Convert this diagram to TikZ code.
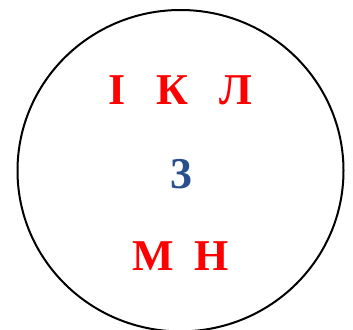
\documentclass[tikz,border=0pt]{standalone}
\usepackage{fontspec}
\setmainfont{Liberation Serif}
\definecolor{letterred}{RGB}{255,0,0}
\definecolor{digitblue}{RGB}{40,80,140}
\begin{document}
\begin{tikzpicture}[x=1pt,y=-1pt,
  letter/.style={anchor=base,inner sep=0pt,font=\fontsize{44}{50}\selectfont\bfseries,text=letterred},
  digit/.style={anchor=base,inner sep=0pt,font=\fontsize{44}{50}\selectfont\bfseries,text=digitblue}]
\useasboundingbox (0,0) rectangle (353,329);
\draw[line width=2pt] (180.5,170.7) ellipse [x radius=163, y radius=160.7];
\node[letter] (i) at (117,104) {І};
\node[letter] (k) at (172,104) {К};
\node[letter] (l) at (236,104) {Л};
\node[digit] (z) at (181,188) {3};
\node[letter] (m) at (153.5,270) {М};
\node[letter] (n) at (211.5,270) {Н};
\end{tikzpicture}
\end{document}
